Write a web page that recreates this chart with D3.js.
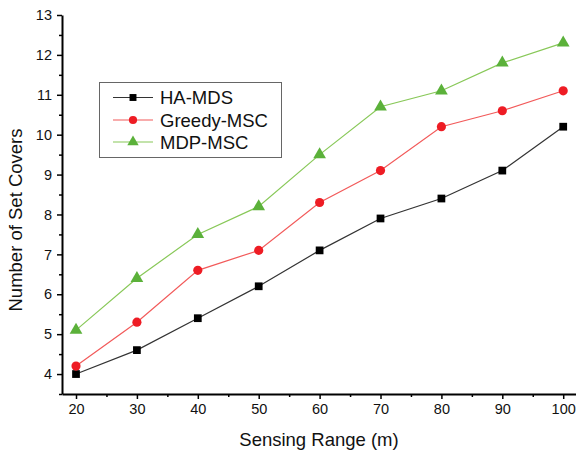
<!DOCTYPE html>
<html><head><meta charset="utf-8">
<script src="https://cdn.jsdelivr.net/npm/d3@7"></script>
<style>body{margin:0;background:#fff}svg{display:block}text{font-family:"Liberation Sans",Arial,sans-serif}</style>
</head><body>
<svg id="c" width="576" height="454"></svg>
<script>
const xValues = [20,30,40,50,60,70,80,90,100];
const haMds = [4.0,4.6,5.4,6.2,7.1,7.9,8.4,9.1,10.2];
const greedyMsc = [4.2,5.3,6.6,7.1,8.3,9.1,10.2,10.6,11.1];
const mdpMsc = [5.1,6.4,7.5,8.2,9.5,10.7,11.1,11.8,12.3];
const xTicks = [20,30,40,50,60,70,80,90,100];
const yTicks = [4,5,6,7,8,9,10,11,12,13];
const seriesNames = ["HA-MDS","Greedy-MSC","MDP-MSC"];

const svg = d3.select("#c");
const x = d3.scaleLinear().domain([17.7,102.1]).range([62,576]);
const y = d3.scaleLinear().domain([3.5,13]).range([394,15]);

// axes
const gx = svg.append("g").attr("transform","translate(0,394)");
gx.call(d3.axisBottom(x).tickValues(xTicks).tickSize(5).tickPadding(5).tickSizeOuter(0));
gx.append("g").call(d3.axisBottom(x).tickValues(d3.range(25,101,10)).tickSize(3).tickFormat("").tickSizeOuter(0)).select(".domain").remove();
const gy = svg.append("g").attr("transform","translate(62,0)");
gy.call(d3.axisLeft(y).tickValues(yTicks).tickSize(5).tickPadding(5).tickSizeOuter(0));
gy.append("g").call(d3.axisLeft(y).tickValues(d3.range(3.5,13,1)).tickSize(3).tickFormat("").tickSizeOuter(0)).select(".domain").remove();
svg.selectAll(".domain").attr("stroke","#000").attr("stroke-width",2);
svg.selectAll(".tick line").attr("stroke","#000").attr("stroke-width",1.5);
svg.selectAll(".tick text").attr("font-size",14.5).attr("fill","#111").style("font-family","'Liberation Sans',Arial,sans-serif");

svg.append("text").attr("x",319).attr("y",446).attr("text-anchor","middle").attr("font-size",18.5).attr("fill","#111").text("Sensing Range (m)");
svg.append("text").attr("transform","translate(22,220) rotate(-90)").attr("text-anchor","middle").attr("font-size",18.5).attr("fill","#111").text("Number of Set Covers");

const series = [
 {name:seriesNames[0], vals:haMds, line:"#333", fill:"#000", shape:d3.symbolSquare, size:60},
 {name:seriesNames[1], vals:greedyMsc, line:"#f25a5a", fill:"#ee1c24", shape:d3.symbolCircle, size:66},
 {name:seriesNames[2], vals:mdpMsc, line:"#88c858", fill:"#5bb13a", shape:d3.symbolTriangle, size:70}
];
const line = d3.line().x((d,i)=>x(xValues[i])).y(d=>y(d));
series.forEach(s=>{
  svg.append("path").attr("d",line(s.vals)).attr("fill","none").attr("stroke",s.line).attr("stroke-width",1.2);
  svg.selectAll(null).data(s.vals).enter().append("path")
    .attr("d",d3.symbol().type(s.shape).size(s.size))
    .attr("transform",(d,i)=>`translate(${x(xValues[i])},${y(d)})`)
    .attr("fill",s.fill);
});

// legend
const lg = svg.append("g");
lg.append("rect").attr("x",99.5).attr("y",82.5).attr("width",182).attr("height",75).attr("fill","#fff").attr("stroke","#666").attr("stroke-width",1);
const rows=[97.5,120,142];
series.forEach((s,i)=>{
  lg.append("line").attr("x1",113).attr("x2",153).attr("y1",rows[i]).attr("y2",rows[i]).attr("stroke",s.line).attr("stroke-width",1.2);
  lg.append("path").attr("d",d3.symbol().type(s.shape).size(s.size*0.8)).attr("transform",`translate(133,${rows[i]})`).attr("fill",s.fill);
  lg.append("text").attr("x",160).attr("y",rows[i]+6.5).attr("font-size",18.5).attr("fill","#111").text(s.name);
});
</script>
</body></html>
